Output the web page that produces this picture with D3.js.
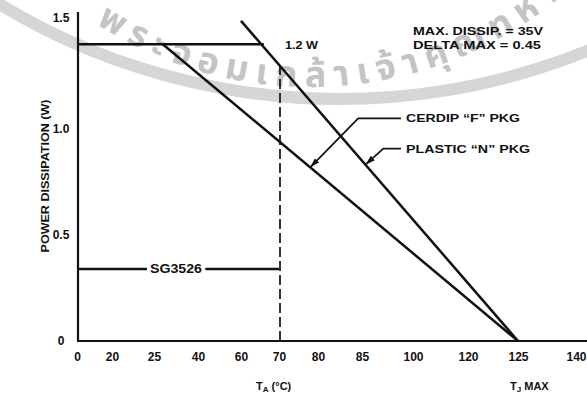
<!DOCTYPE html>
<html>
<head>
<meta charset="utf-8">
<script src="https://cdn.jsdelivr.net/npm/d3@7"></script>
<style>
  html, body { margin: 0; padding: 0; background: #fff; }
  svg { display: block; font-family: "Liberation Sans", Arial, Helvetica, sans-serif; font-weight: bold; }
</style>
</head>
<body>
<svg id="chart" width="587" height="409"></svg>
<script>
// ---- data ----------------------------------------------------------
// ambient temperature ticks (°C) as printed under the axis
const tempTicks = [0, 20, 25, 40, 60, 70, 80, 85, 100, 120, 125, 140];
const powerTicks = [0, 0.5, 1.0, 1.5];
const powerTickLabels = ["0", "0.5", "1.0", "1.5"];

// package dissipation limit (W)
const limitTemps = [0, 66];
const limitPower = [1.4, 1.4];
// CERDIP "F" package derating
const cerdipTemps = [28, 125];
const cerdipPower = [1.4, 0];
// plastic "N" package derating
const plasticTemps = [60, 125];
const plasticPower = [1.51, 0];
// SG3526 operating dissipation up to 70 °C
const sgTemps = [0, 70];
const sgPower = [0.34, 0.34];
const ambientMark = 70;

// ---- layout --------------------------------------------------------
const W = 587, H = 409;
const originX = 77, baseY = 341, topY = 23;
// the temperature axis is hand-spaced: offset of each printed tick from the origin
const tickOffsets = [0, 35, 77, 121, 164, 202, 241, 285, 336, 391, 441, 499];

const x = d3.scaleLinear().domain(tempTicks).range(tickOffsets.map(o => originX + o));
const y = d3.scaleLinear().domain([0, 1.5]).range([baseY, topY]);

const svg = d3.select("#chart");
svg.append("rect").attr("width", W).attr("height", H).attr("fill", "#fff");
const defs = svg.append("defs");

// ---- faint institute seal behind the chart -------------------------
const ringC = {x: 340, y: -560}, ringR = 659;
svg.append("path")
  .attr("transform", `translate(${ringC.x},${ringC.y})`)
  .attr("d", d3.arc()({innerRadius: ringR - 6, outerRadius: ringR + 6,
    startAngle: Math.PI - 0.62, endAngle: Math.PI + 0.62}))
  .attr("fill", "#d6d6d6");

const textC = {x: 310, y: -307}, textR = 394;
const a0 = 0.62, a1 = 0.95; // angles either side of straight down
const p0 = [textC.x - textR * Math.sin(a0), textC.y + textR * Math.cos(a0)];
const p1 = [textC.x + textR * Math.sin(a1), textC.y + textR * Math.cos(a1)];
defs.append("path").attr("id", "sealText")
  .attr("d", `M${p0[0]},${p0[1]} A${textR},${textR} 0 0 0 ${p1[0]},${p1[1]}`);
svg.append("text")
  .attr("font-family", "'Noto Sans Thai','Noto Sans Thai Looped','Noto Sans',sans-serif")
  .attr("font-weight", "bold")
  .attr("font-size", 36)
  .attr("letter-spacing", 8)
  .attr("fill", "#c4c4c4")
  .append("textPath")
  .attr("href", "#sealText")
  .attr("startOffset", 18)
  .text("พระจอมเกล้าเจ้าคุณทหาร");

// ---- arrow marker --------------------------------------------------
defs.append("marker").attr("id", "arrow")
  .attr("viewBox", "0 0 10 6").attr("refX", 10).attr("refY", 3)
  .attr("markerWidth", 10).attr("markerHeight", 6)
  .attr("markerUnits", "userSpaceOnUse").attr("orient", "auto")
  .append("path").attr("d", "M0,0 L10,3 L0,6 Z").attr("fill", "#111");

// ---- axes ----------------------------------------------------------
const ink = "#111";
const xAxis = svg.append("g")
  .attr("transform", `translate(0,${baseY})`)
  .call(d3.axisBottom(x).tickValues(tempTicks).tickSize(0).tickPadding(11).tickFormat(d3.format("d")));
xAxis.select(".domain").remove();
xAxis.selectAll("text").attr("font-size", 12).attr("font-family", null).attr("fill", ink);

const yAxis = svg.append("g")
  .attr("transform", `translate(${originX},0)`)
  .call(d3.axisLeft(y).tickValues(powerTicks).tickSize(0)
    .tickFormat((d, i) => powerTickLabels[i]));
yAxis.select(".domain").remove();
yAxis.selectAll("text").attr("font-size", 12).attr("font-family", null)
  .attr("text-anchor", "middle").attr("x", -16).attr("fill", ink);
yAxis.selectAll(".tick").filter(d => d === 1.5).select("text").attr("dy", "-0.1em");

svg.append("line").attr("x1", originX).attr("x2", W).attr("y1", baseY).attr("y2", baseY)
  .attr("stroke", ink).attr("stroke-width", 2.2);
svg.append("line").attr("x1", originX + 1).attr("x2", originX + 1).attr("y1", baseY).attr("y2", 12)
  .attr("stroke", ink).attr("stroke-width", 2.2);

// wide, heavy lettering used for all chart captions
function caption(g, px, py, str, size, len, anchor) {
  return g.append("text").attr("x", px).attr("y", py)
    .attr("text-anchor", anchor || "start").attr("font-size", size).attr("fill", ink)
    .attr("textLength", len).attr("lengthAdjust", "spacingAndGlyphs").text(str);
}

svg.append("text").attr("transform", `translate(49,176) rotate(-90)`)
  .attr("text-anchor", "middle").attr("font-size", 11).attr("fill", ink)
  .attr("textLength", 153).attr("lengthAdjust", "spacingAndGlyphs")
  .text("POWER DISSIPATION (W)");

const tA = svg.append("text").attr("x", 256).attr("y", 390).attr("font-size", 11).attr("fill", ink);
tA.append("tspan").text("T");
tA.append("tspan").attr("font-size", 8).attr("dy", 2).text("A");
tA.append("tspan").attr("dy", -2).text(" (°C)");

const tJ = svg.append("text").attr("x", 510).attr("y", 390).attr("font-size", 11).attr("fill", ink);
tJ.append("tspan").text("T");
tJ.append("tspan").attr("font-size", 8).attr("dy", 2).text("J");
tJ.append("tspan").attr("dy", -2).text(" MAX");

// ---- curves --------------------------------------------------------
const line = d3.line().x(d => x(d[0])).y(d => y(d[1]));
const zipPts = (t, p) => t.map((v, i) => [v, p[i]]);

[[limitTemps, limitPower], [cerdipTemps, cerdipPower], [plasticTemps, plasticPower], [sgTemps, sgPower]]
  .forEach(([t, p]) => {
    svg.append("path").attr("d", line(zipPts(t, p)))
      .attr("fill", "none").attr("stroke", ink).attr("stroke-width", 2.5);
  });

// point on a drawn (straight) curve at a given temperature
function onCurve(t, p, temp) {
  const x0 = x(t[0]), y0 = y(p[0]), x1 = x(t[1]), y1 = y(p[1]);
  const px = x(temp);
  return [px, y0 + (px - x0) / (x1 - x0) * (y1 - y0)];
}

// dashed marker at 70 °C up to the plastic curve
const dashTop = onCurve(plasticTemps, plasticPower, ambientMark);
svg.append("line").attr("x1", x(ambientMark) + 1).attr("x2", x(ambientMark) + 1)
  .attr("y1", y(0)).attr("y2", dashTop[1] + 2)
  .attr("stroke", ink).attr("stroke-width", 1.7).attr("stroke-dasharray", "10,4");

caption(svg, dashTop[0] + 6, y(1.4) + 5, "1.2 W", 11, 33);

// SG3526 label sitting on its line
const sgMid = (x(sgTemps[0]) + x(sgTemps[1])) / 2 - 2;
const sgLabel = caption(svg, sgMid, y(sgPower[0]) + 4.5, "SG3526", 12, 52, "middle");
const bb = sgLabel.node().getBBox();
svg.insert("rect", () => sgLabel.node())
  .attr("x", bb.x - 3).attr("y", y(sgPower[0]) - 3).attr("width", bb.width + 6).attr("height", 6)
  .attr("fill", "#fff");

// ---- package callouts ----------------------------------------------
function callout(t, p, temp, dx, dy, label, len) {
  const tip = onCurve(t, p, temp);
  const elbow = [tip[0] + dx, tip[1] + dy];
  const labelX = 406;
  svg.append("path")
    .attr("d", `M${labelX - 5},${elbow[1]} L${elbow[0]},${elbow[1]} L${tip[0]},${tip[1]}`)
    .attr("fill", "none").attr("stroke", ink).attr("stroke-width", 1.7)
    .attr("marker-end", "url(#arrow)");
  caption(svg, labelX, elbow[1] + 4, label, 11, len);
}
callout(cerdipTemps, cerdipPower, 78, 48, -49, "CERDIP \u201CF\u201D PKG", 114);
callout(plasticTemps, plasticPower, 86, 18, -16, "PLASTIC \u201CN\u201D PKG", 124);

// ---- operating note ------------------------------------------------
caption(svg, 413, 35, "MAX. DISSIP. = 35V", 11, 130);
caption(svg, 413, 49, "DELTA MAX = 0.45", 11, 128);
</script>
</body>
</html>
